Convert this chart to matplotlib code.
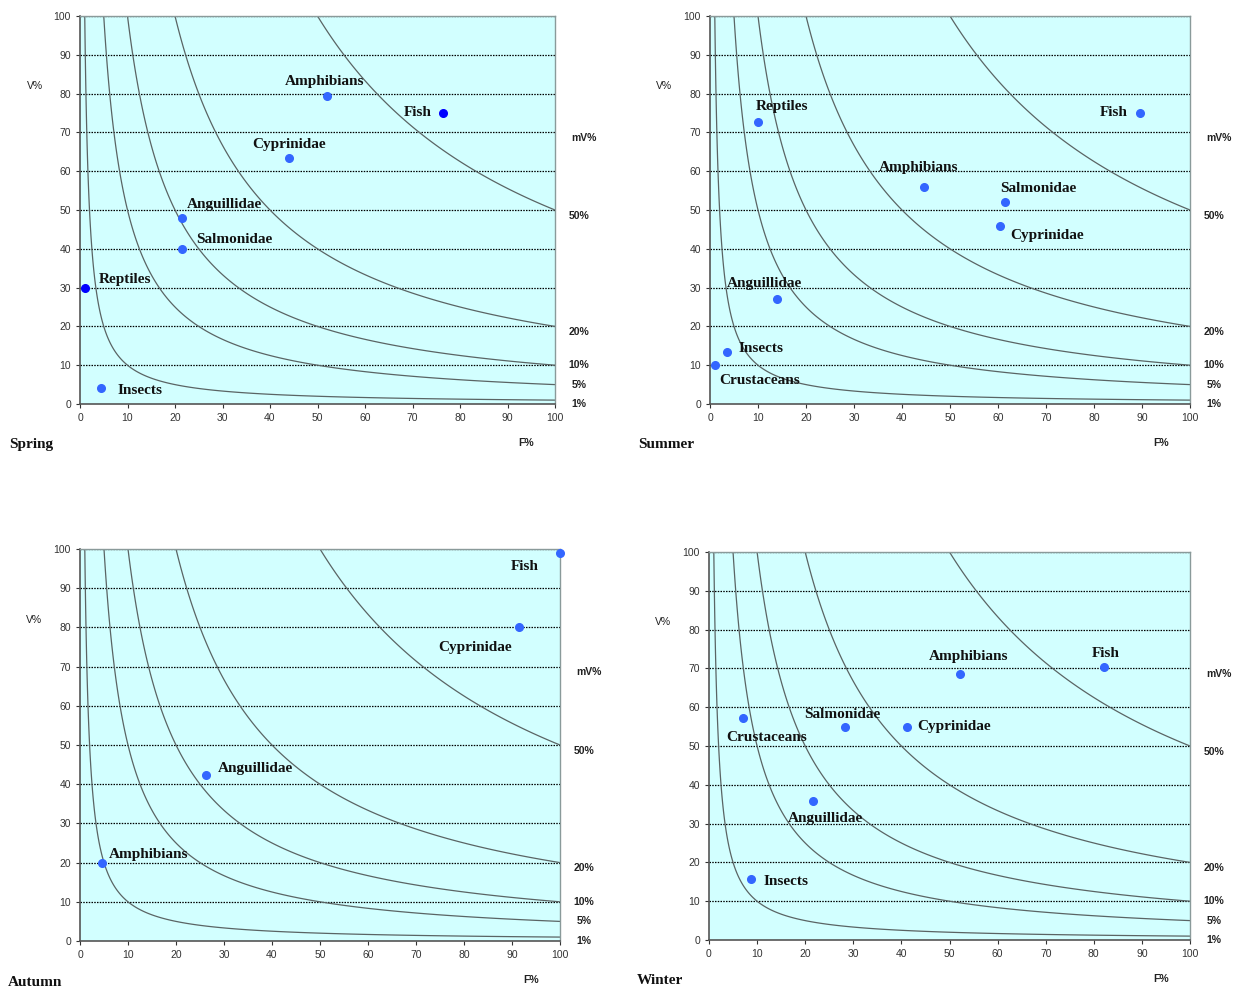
import numpy as np
import matplotlib
matplotlib.use("Agg")
import matplotlib.pyplot as plt

# Costello-style diagrams: F% (frequency) vs V% (volume), iso-lines of mV%
mv_levels = [1, 5, 10, 20, 50]
mv_labels = ["1%", "5%", "10%", "20%", "50%"]

spring_names = ["Amphibians", "Fish", "Cyprinidae", "Anguillidae", "Salmonidae", "Reptiles", "Insects"]
spring_f = [52, 76.5, 44, 21.5, 21.5, 1, 4.5]
spring_v = [79.5, 75, 63.3, 48, 40, 30, 4]

summer_names = ["Reptiles", "Fish", "Amphibians", "Salmonidae", "Cyprinidae", "Anguillidae", "Insects", "Crustaceans"]
summer_f = [10, 89.5, 44.5, 61.5, 60.5, 14, 3.5, 1]
summer_v = [72.7, 75, 56, 52, 46, 27, 13.3, 10]

autumn_names = ["Fish", "Cyprinidae", "Anguillidae", "Amphibians"]
autumn_f = [100, 91.5, 26.3, 4.5]
autumn_v = [99, 80, 42.3, 20]

winter_names = ["Amphibians", "Fish", "Crustaceans", "Salmonidae", "Cyprinidae", "Anguillidae", "Insects"]
winter_f = [52.2, 82.2, 7, 28.3, 41.2, 21.7, 8.8]
winter_v = [68.5, 70.3, 57.3, 55, 55, 35.7, 15.6]

# label offsets (in data units) and alignment, per point
spring_lab = [(-0.5, 3.5, "center"), (-2.5, 0, "right"), (0, 3.5, "center"), (1, 3.5, "left"),
              (3, 2.5, "left"), (3, 2, "left"), (3.5, -0.5, "left")]
summer_lab = [(-0.5, 4, "left"), (-2.5, 0, "right"), (-1, 5, "center"), (-1, 3.5, "left"),
              (2, -2.5, "left"), (-10.5, 4, "left"), (2.5, 1, "left"), (1, -4, "left")]
autumn_lab = [(-4.5, -3.5, "right"), (-1.5, -5, "right"), (2.5, 1.8, "left"), (1.5, 2, "left")]
winter_lab = [(1.8, 4.5, "center"), (0.2, 3.5, "center"), (5, -5, "center"), (-0.5, 3, "center"),
              (2, 0, "left"), (2.5, -4.5, "center"), (2.5, -0.5, "left")]

spring_dark = ["Fish", "Reptiles"]

panels = [
    ("Spring", spring_names, spring_f, spring_v, spring_lab, [80, 16, 555, 404]),
    ("Summer", summer_names, summer_f, summer_v, summer_lab, [710, 16, 1190, 404]),
    ("Autumn", autumn_names, autumn_f, autumn_v, autumn_lab, [80, 549, 560, 941]),
    ("Winter", winter_names, winter_f, winter_v, winter_lab, [709, 552, 1190, 940]),
]

W, H = 1243, 991
fig = plt.figure(figsize=(W / 100, H / 100), dpi=100)

serif = "Liberation Serif"
sans = "Liberation Sans"

gf = np.linspace(0.05, 100, 600)
gv = np.linspace(0.05, 100, 600)
FF, VV = np.meshgrid(gf, gv)

for season, names, fv, vv, labs, (x0, y0, x1, y1) in panels:
    ax = fig.add_axes([x0 / W, 1 - y1 / H, (x1 - x0) / W, (y1 - y0) / H])
    ax.set_facecolor("#d2ffff")
    ax.set_xlim(0, 100)
    ax.set_ylim(0, 100)
    ax.set_xticks(range(0, 101, 10))
    ax.set_yticks(range(0, 101, 10))
    ax.tick_params(labelsize=7.5, colors="#333333", length=3, width=0.8, direction="out")
    for lbl in ax.get_xticklabels() + ax.get_yticklabels():
        lbl.set_fontfamily(sans)
    for y in range(10, 101, 10):
        ax.axhline(y, color="black", ls=(0, (1.2, 1.0)), lw=0.9, zorder=1)
    for s in ["left", "bottom"]:
        ax.spines[s].set_color("#555555")
        ax.spines[s].set_linewidth(1.2)
    for s in ["top", "right"]:
        ax.spines[s].set_color("#8a9a9a")
        ax.spines[s].set_linewidth(1.0)

    ax.contour(FF, VV, FF * VV / 100, levels=mv_levels, colors="#5a6464",
               linewidths=0.9, zorder=2)

    for n, f, v, (dx, dy, ha) in zip(names, fv, vv, labs):
        col = "#0000ff" if (season == "Spring" and n in spring_dark) else "#3366ff"
        ax.plot([f], [v], "o", color=col, ms=5.5, mec=col, clip_on=False, zorder=4)
        ax.text(f + dx, v + dy, n, fontsize=11, fontweight="bold", family=serif,
                ha=ha, va="center", color="#111111", zorder=5)

    # right-hand mV% labels
    tr = ax.get_yaxis_transform()
    ax.text(1.06, 68.5, "mV%", transform=tr, fontsize=7.5, fontweight="bold",
            family=sans, color="#222222", ha="center", va="center")
    for lev, txt in zip(mv_levels, mv_labels):
        yy = lev - 1.5 if lev >= 20 else lev
        if lev == 1:
            yy = 0
        ax.text(1.05, yy, txt, transform=tr, fontsize=7.5, fontweight="bold",
                family=sans, color="#222222", ha="center", va="center")
    ax.text(-0.095, 82, "V%", transform=tr, fontsize=7.5, family=sans,
            color="#222222", ha="center", va="center")
    ax.text(0.94, -0.1, "F%", transform=ax.transAxes, fontsize=7.5, fontweight="bold",
            family=sans, color="#222222", ha="center", va="center")
    ax.text(-0.15, -0.105, season, transform=ax.transAxes, fontsize=11,
            fontweight="bold", family=serif, color="#111111", ha="left", va="center")

fig.savefig("out.png", dpi=100)
